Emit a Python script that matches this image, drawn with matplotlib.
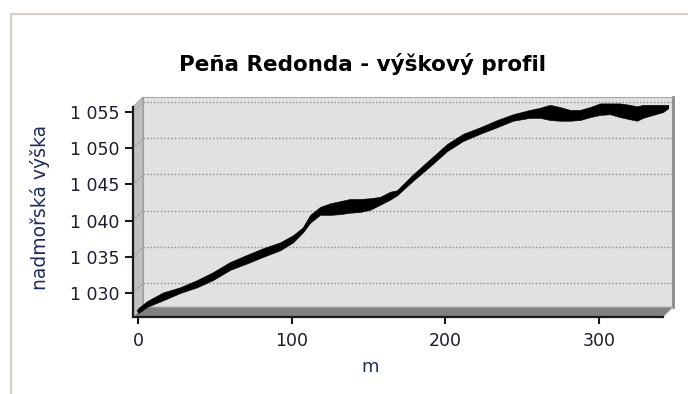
import matplotlib
matplotlib.use("Agg")
import matplotlib.pyplot as plt
from matplotlib.patches import Polygon
from matplotlib.lines import Line2D
from matplotlib.ticker import FuncFormatter

# vzdalenost (m) a obalka vyskoveho profilu (horni / dolni okraj cary)
dist_m = [0, 5.9, 16.3, 27.3, 38.4, 48.8, 59.9, 71.0, 81.4, 92.4,
          100.9, 107.4, 112.0, 118.5, 125.0, 131.5, 138.0, 144.5, 151.0, 157.6,
          164.1, 168.6, 179.0, 190.1, 201.2, 211.6, 222.7, 233.7, 244.1, 255.2,
          261.7, 268.2, 274.7, 281.3, 287.8, 294.3, 300.8, 307.3, 313.8, 320.3,
          324.9, 328.8, 335.3, 341.8, 345.1]
elev_hi = [1027.9, 1028.9, 1030.1, 1030.8, 1031.8, 1032.9, 1034.3, 1035.3, 1036.2, 1037.0,
           1038.0, 1039.1, 1040.8, 1041.9, 1042.4, 1042.7, 1043.0, 1043.0, 1043.1, 1043.3,
           1044.0, 1044.2, 1046.4, 1048.5, 1050.6, 1052.0, 1052.9, 1053.9, 1054.7, 1055.3,
           1055.6, 1056.0, 1055.7, 1055.3, 1055.3, 1055.7, 1056.2, 1056.2, 1056.2, 1056.0,
           1055.8, 1056.0, 1056.0, 1056.0, 1056.0]
elev_lo = [1027.2, 1028.1, 1029.0, 1030.0, 1030.8, 1031.8, 1033.2, 1034.1, 1035.0, 1035.9,
           1037.0, 1038.4, 1039.7, 1040.8, 1040.8, 1040.9, 1041.1, 1041.2, 1041.5, 1042.2,
           1042.9, 1043.5, 1045.5, 1047.5, 1049.6, 1051.0, 1052.0, 1052.9, 1053.8, 1054.2,
           1054.2, 1053.9, 1053.8, 1053.8, 1053.9, 1054.3, 1054.6, 1054.7, 1054.3, 1054.0,
           1053.8, 1054.2, 1054.6, 1055.0, 1055.5]

y_ticks = [1030, 1035, 1040, 1045, 1050, 1055]
x_ticks = [0, 100, 200, 300]
xlim = (-3.3, 341.8)
ylim = (1026.7, 1055.7)

title = "Peña Redonda - výškový profil"
ylabel = "nadmořská výška"
xlabel = "m"

W, H = 688, 394
fig = plt.figure(figsize=(W / 100, H / 100), dpi=100)

def px_box(l, t, r, b):
    return [l / W, 1 - b / H, (r - l) / W, (b - t) / H]

# ramecek okna
fig.add_artist(Line2D([11 / W, 11 / W, 1], [0, 1 - 14 / H, 1 - 14 / H],
                      transform=fig.transFigure, color="#d4d0c8", lw=1.6))

# predni rovina grafu + hloubka 3D efektu
front = px_box(133, 107, 663, 317)
dx, dy = 10 / W, 10 / H
fl, fb, fw, fh = front
fr, ft = fl + fw, fb + fh

# zadni stena s mrizkou
back = fig.add_axes([fl + dx, fb + dy, fw, fh], zorder=0)
back.set_facecolor("#e1e1e1")
back.set_xlim(*xlim)
back.set_ylim(*ylim)
back.set_xticks([])
back.set_yticks([])
for v in y_ticks:
    back.axhline(v, color="#8f8f8f", lw=1.0, ls=(0, (1, 1.5)))
back.spines["bottom"].set_visible(False)
back.spines["top"].set_color("#a8a8a8")
back.spines["left"].set_color("#9a9a9a")
back.spines["right"].set_color("#8a8a8a")
back.spines["right"].set_linewidth(2)

# leva stena a podlaha
fig.add_artist(Polygon([(fl, fb), (fl, ft), (fl + dx, ft + dy), (fl + dx, fb + dy)],
                       closed=True, transform=fig.transFigure,
                       facecolor="#c0c0c0", edgecolor="#a0a0a0", lw=0.8, zorder=1))
fig.add_artist(Polygon([(fl, fb), (fr, fb), (fr + dx, fb + dy), (fl + dx, fb + dy)],
                       closed=True, transform=fig.transFigure,
                       facecolor="#808080", edgecolor="#b4b4b4", lw=0.8, zorder=1))
for v in y_ticks:
    yf = fb + (v - ylim[0]) / (ylim[1] - ylim[0]) * fh
    fig.add_artist(Line2D([fl, fl + dx], [yf, yf + dy], transform=fig.transFigure,
                          color="#8f8f8f", lw=1.0, ls=(0, (1, 1.5)), zorder=1))

# predni osy s popisy a daty
ax = fig.add_axes(front, zorder=2)
ax.patch.set_visible(False)
ax.set_xlim(*xlim)
ax.set_ylim(*ylim)
ax.fill_between(dist_m, elev_lo, elev_hi, color="black", lw=0.4, clip_on=False)
ax.plot(dist_m, [(a + b) / 2 for a, b in zip(elev_lo, elev_hi)],
        color="black", lw=1.5, clip_on=False)

ax.set_xticks(x_ticks)
ax.set_yticks(y_ticks)
ax.yaxis.set_major_formatter(FuncFormatter(lambda v, p: "{:,.0f}".format(v).replace(",", " ")))
ax.spines["top"].set_visible(False)
ax.spines["right"].set_visible(False)
for s in ("left", "bottom"):
    ax.spines[s].set_color("#1a1a1a")
    ax.spines[s].set_linewidth(1.6)
ax.tick_params(axis="y", length=6, width=1.5, pad=4, labelsize=12.5,
               color="#1a1a1a", labelcolor="#1c1c2c")
ax.tick_params(axis="x", length=5, width=1.5, pad=6, labelsize=12.5,
               color="#1a1a1a", labelcolor="#1c1c2c")

fig.text(362 / W, 1 - 71 / H, title, ha="center", va="baseline",
         fontsize=15.5, fontweight="bold", color="black")
fig.text(40 / W, 1 - 207 / H, ylabel, ha="center", va="center", rotation=90,
         fontsize=13.5, color="#1f2a60")
fig.text(370 / W, 1 - 372 / H, xlabel, ha="center", va="baseline",
         fontsize=13, color="#1f2a60")

fig.savefig("out.png", dpi=100)
